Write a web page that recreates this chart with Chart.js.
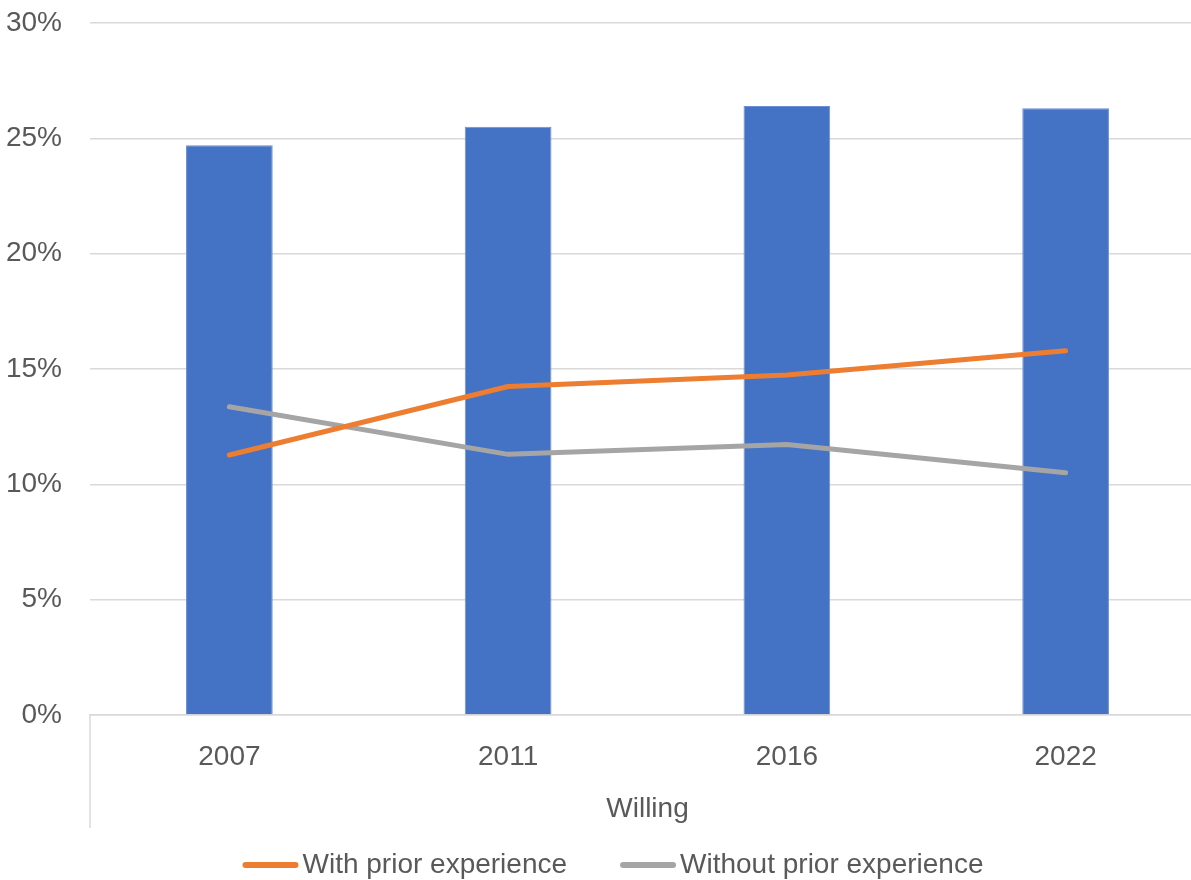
<!DOCTYPE html>
<html>
<head>
<meta charset="utf-8">
<script src="https://cdn.jsdelivr.net/npm/chart.js@4.4.1/dist/chart.umd.min.js"></script>
<style>
  html, body { margin: 0; padding: 0; background: #fff; overflow: hidden; }
  #wrap { position: absolute; left: 0; top: 0; width: 1205px; height: 880px; }
</style>
</head>
<body>
<div id="wrap"><canvas id="chart"></canvas></div>
<script>
const years = ["2007", "2011", "2016", "2022"];
const groupLabel = "Willing";
const willing = [24.7, 25.5, 26.4, 26.3];
const withPrior = [11.27, 14.24, 14.74, 15.79];
const withoutPrior = [13.36, 11.3, 11.73, 10.5];
const seriesNames = ["Willing", "With prior experience", "Without prior experience"];

const TEXT = "#595959";
const GRID = "#d9d9d9";
const FONT = "'Liberation Sans', Arial, sans-serif";
const FONT_SIZE = 28;

// second level of the category axis: one label under all years, plus the left separator
const groupAxis = {
  id: "groupAxis",
  afterDraw(chart) {
    const { ctx, chartArea } = chart;
    ctx.save();
    ctx.strokeStyle = GRID;
    ctx.lineWidth = 1.5;
    ctx.beginPath();
    ctx.moveTo(chartArea.left, chartArea.bottom);
    ctx.lineTo(chartArea.left, chartArea.bottom + 113);
    ctx.stroke();
    ctx.fillStyle = TEXT;
    ctx.font = FONT_SIZE + "px " + FONT;
    ctx.textAlign = "center";
    ctx.textBaseline = "middle";
    ctx.fillText(groupLabel, (chartArea.left + chartArea.right) / 2, chartArea.bottom + 94);
    ctx.restore();
  }
};

// legend for the two line series, centred along the bottom
const lineLegend = {
  id: "lineLegend",
  afterDraw(chart) {
    const { ctx } = chart;
    const items = chart.data.datasets.filter((d) => d.type === "line");
    ctx.save();
    ctx.font = FONT_SIZE + "px " + FONT;
    const lineLen = 56, gapText = 4, gapItem = 53;
    const widths = items.map((d) => ctx.measureText(d.label).width);
    let total = widths.reduce((a, w) => a + lineLen + gapText + w, 0) + gapItem * (items.length - 1);
    let x = 613 - total / 2;
    const y = 865;
    items.forEach((d, i) => {
      ctx.strokeStyle = d.borderColor;
      ctx.lineWidth = 6;
      ctx.lineCap = "round";
      ctx.beginPath();
      ctx.moveTo(x + 3, y);
      ctx.lineTo(x + lineLen - 3, y);
      ctx.stroke();
      ctx.fillStyle = TEXT;
      ctx.textAlign = "left";
      ctx.textBaseline = "middle";
      ctx.fillText(d.label, x + lineLen + gapText, y);
      x += lineLen + gapText + widths[i] + gapItem;
    });
    ctx.restore();
  }
};

new Chart(document.getElementById("chart"), {
  data: {
    labels: years,
    datasets: [
      {
        type: "line",
        label: seriesNames[1],
        data: withPrior,
        borderColor: "#ED7D31",
        borderWidth: 5,
        borderCapStyle: "round",
        borderJoinStyle: "round",
        pointRadius: 0,
        tension: 0,
        order: 1
      },
      {
        type: "line",
        label: seriesNames[2],
        data: withoutPrior,
        borderColor: "#A5A5A5",
        borderWidth: 5,
        borderCapStyle: "round",
        borderJoinStyle: "round",
        pointRadius: 0,
        tension: 0,
        order: 2
      },
      {
        type: "bar",
        label: seriesNames[0],
        data: willing,
        backgroundColor: "#4472C4",
        borderColor: "#6b8fd3",
        borderWidth: 1,
        categoryPercentage: 1,
        barPercentage: 0.311,
        order: 3
      }
    ]
  },
  options: {
    responsive: true,
    maintainAspectRatio: false,
    animation: false,
    layout: { padding: { top: 23, right: 0, bottom: 0, left: 0 } },
    plugins: {
      legend: { display: false },
      tooltip: { enabled: false }
    },
    scales: {
      x: {
        offset: true,
        grid: { display: false, drawTicks: false },
        border: { display: true, color: GRID, width: 1.5 },
        ticks: {
          color: TEXT,
          font: { family: FONT, size: FONT_SIZE },
          padding: 25,
          maxRotation: 0
        },
        afterFit(scale) { scale.height = 880 - 715; }
      },
      y: {
        min: 0,
        max: 30,
        grid: { color: GRID, lineWidth: 1.5, drawTicks: false },
        border: { display: false },
        ticks: {
          stepSize: 5,
          color: TEXT,
          font: { family: FONT, size: FONT_SIZE },
          padding: 28,
          callback: (v) => v + "%"
        },
        afterFit(scale) {
          scale.width = 90;
          scale.paddingTop = 0;
          scale.paddingBottom = 0;
        }
      }
    }
  },
  plugins: [groupAxis, lineLegend]
});
</script>
</body>
</html>
